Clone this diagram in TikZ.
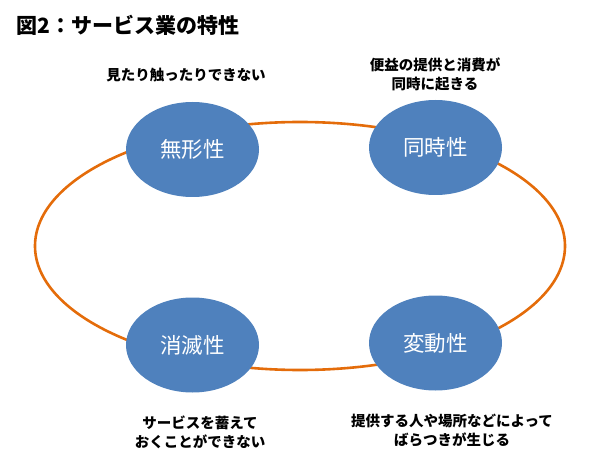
\documentclass[tikz,border=0pt]{standalone}
\usepackage{fontspec}
\setmainfont{Noto Sans CJK JP}
\usetikzlibrary{shapes.geometric}
\definecolor{ringorange}{RGB}{228,108,10}
\definecolor{traitblue}{RGB}{79,129,189}
\tikzset{
  trait/.style={ellipse, fill=traitblue, text=white, inner sep=0pt,
    minimum width=133pt, minimum height=95pt, font=\fontsize{21.5}{24}\selectfont},
  note/.style={align=center, font=\bfseries\fontsize{14.5}{19}\selectfont}
}

\begin{document}
\begin{tikzpicture}[x=1pt,y=-1pt]
\useasboundingbox (0,0) rectangle (600,465);
    \node[anchor=west, font=\bfseries\fontsize{21}{24}\selectfont] (title) at (13,25) {図2：サービス業の特性};

    % the ring behind the four traits
    \draw[ringorange, line width=2.6pt] (300,246) ellipse [x radius=265, y radius=124];

    \node[trait] (mukei) at (192.5,149.5) {無形性};
    \node[trait] (doji) at (435.5,147.5) {同時性};
    \node[trait] (shometsu) at (192.5,345) {消滅性};
    \node[trait] (hendo) at (435.5,343) {変動性};

    \node[note] (mukeinote) at (186,75) {見たり触ったりできない};
    \node[note] (dojinote) at (435,74) {便益の提供と消費が\\同時に起きる};
    \node[note] (shometsunote) at (200,432) {サービスを蓄えて\\おくことができない};
    \node[note] (hendonote) at (452,430) {提供する人や場所などによって\\ばらつきが生じる};
\end{tikzpicture}
\end{document}
